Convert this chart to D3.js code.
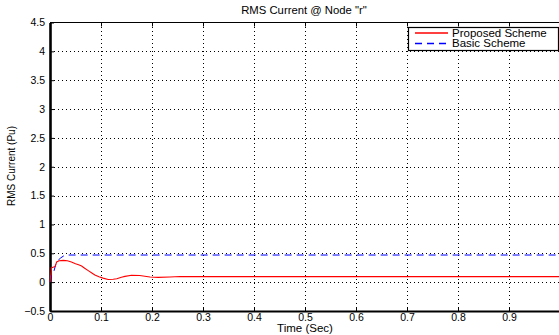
<!DOCTYPE html>
<html>
<head>
<meta charset="utf-8">
<script src="https://cdn.jsdelivr.net/npm/d3@7/dist/d3.min.js"></script>
<style>
  html, body { margin: 0; padding: 0; background: #fff; }
  svg { display: block; font-family: "Liberation Sans", Arial, sans-serif; }
</style>
</head>
<body>
<svg id="chart" width="559" height="335"></svg>
<script>
// Proposed scheme: RMS current (pu) vs time (s)
const proposedTime = [0, 0.003, 0.006, 0.010, 0.013, 0.018, 0.026, 0.034, 0.042, 0.050, 0.056, 0.062, 0.068, 0.075, 0.082, 0.088, 0.096, 0.104, 0.114, 0.124, 0.131, 0.140, 0.147, 0.160, 0.176, 0.196, 0.212, 0.235, 0.255, 0.294, 0.4, 0.6, 0.8, 1.0];
const proposedValue = [0, 0.25, 0.26, 0.27, 0.35, 0.37, 0.378, 0.37, 0.35, 0.32, 0.30, 0.28, 0.24, 0.20, 0.16, 0.125, 0.095, 0.07, 0.045, 0.05, 0.06, 0.085, 0.10, 0.12, 0.115, 0.088, 0.082, 0.09, 0.098, 0.095, 0.095, 0.095, 0.095, 0.095];

// Basic scheme: RMS current (pu) vs time (s)
const basicTime = [0, 0.003, 0.008, 0.011, 0.013, 0.016, 0.021, 0.026, 0.030, 0.05, 0.3, 0.6, 1.0];
const basicValue = [0, 0.13, 0.2, 0.30, 0.35, 0.38, 0.42, 0.45, 0.47, 0.47, 0.47, 0.47, 0.47];

const xTicks = [0, 0.1, 0.2, 0.3, 0.4, 0.5, 0.6, 0.7, 0.8, 0.9];
const yTicks = [-0.5, 0, 0.5, 1, 1.5, 2, 2.5, 3, 3.5, 4, 4.5];
const seriesNames = ["Proposed Scheme", "Basic Scheme"];
const seriesColors = ["#ff0000", "#0000ff"];

const svg = d3.select("#chart");
const plotLeft = 50, plotRight = 560, plotTop = 22.5, plotBottom = 311;

const x = d3.scaleLinear().domain([0, 1]).range([plotLeft, plotRight]);
const y = d3.scaleLinear().domain([-0.5, 4.5]).range([plotBottom, plotTop]);

// dotted grid
const grid = svg.append("g").attr("stroke", "#000").attr("stroke-width", 1)
  .attr("stroke-dasharray", "1,3").attr("shape-rendering", "crispEdges");
grid.selectAll(".gx").data(xTicks.slice(1)).join("line")
  .attr("x1", d => Math.round(x(d)) + 0.5).attr("x2", d => Math.round(x(d)) + 0.5)
  .attr("y1", plotTop).attr("y2", plotBottom);
grid.selectAll(".gy").data(yTicks.slice(1, -1)).join("line")
  .attr("x1", plotLeft).attr("x2", plotRight)
  .attr("y1", d => Math.round(y(d)) + 0.5).attr("y2", d => Math.round(y(d)) + 0.5);

// top border
svg.append("line").attr("x1", plotLeft).attr("x2", plotRight).attr("y1", plotTop).attr("y2", plotTop)
  .attr("stroke", "#000").attr("stroke-width", 1.2);

// inward ticks on top border
svg.append("g").selectAll("line").data(xTicks.slice(1)).join("line")
  .attr("x1", d => Math.round(x(d)) + 0.5).attr("x2", d => Math.round(x(d)) + 0.5)
  .attr("y1", plotTop).attr("y2", plotTop + 4).attr("stroke", "#000");

// axes
const xAxis = d3.axisBottom(x).tickValues(xTicks).tickSizeInner(-4).tickSizeOuter(0)
  .tickPadding(3).tickFormat(d3.format("~g"));
const gx = svg.append("g").attr("transform", `translate(0,${plotBottom})`).call(xAxis);
gx.select(".domain").attr("stroke-width", 2.2);
gx.selectAll("text").attr("font-size", 10.5).attr("fill", "#000");

const yAxis = d3.axisLeft(y).tickValues(yTicks).tickSizeInner(-4).tickSizeOuter(0)
  .tickPadding(5).tickFormat(d => d < 0 ? "\u2212" + Math.abs(d) : d3.format("~g")(d));
const gy = svg.append("g").attr("transform", `translate(${plotLeft},0)`).call(yAxis);
gy.select(".domain").attr("stroke-width", 2.6);
gy.selectAll("text").attr("font-size", 10.5).attr("fill", "#000");

// series lines
const line = d3.line().x(d => x(d[0])).y(d => y(d[1]));
const proposed = d3.zip(proposedTime, proposedValue);
const basic = d3.zip(basicTime, basicValue);

svg.append("path").datum(basic).attr("d", line).attr("fill", "none")
  .attr("stroke", seriesColors[1]).attr("stroke-width", 1).attr("stroke-dasharray", "7,5");
svg.append("path").datum(proposed).attr("d", line).attr("fill", "none")
  .attr("stroke", seriesColors[0]).attr("stroke-width", 1.1);

// title and axis labels
svg.append("text").attr("x", 304).attr("y", 13.5).attr("text-anchor", "middle")
  .attr("font-size", 11.3).text('RMS Current @ Node "r"');
svg.append("text").attr("x", 305).attr("y", 332).attr("text-anchor", "middle")
  .attr("font-size", 11.5).text("Time (Sec)");
svg.append("text").attr("transform", "translate(15,166) rotate(-90)").attr("text-anchor", "middle")
  .attr("font-size", 10).text("RMS Current (Pu)");

// legend
const lg = svg.append("g");
lg.append("rect").attr("x", 408.5).attr("y", 27.5).attr("width", 150).attr("height", 23)
  .attr("fill", "#fff").attr("stroke", "#000").attr("stroke-width", 1.2);
seriesNames.forEach((name, i) => {
  const yy = 33 + i * 10.5;
  lg.append("path").attr("d", `M415,${yy}H448`)
    .attr("fill", "none")
    .attr("stroke", seriesColors[i]).attr("stroke-width", 1.4)
    .attr("stroke-dasharray", i === 1 ? "7,5" : null);
  lg.append("text").attr("x", 452).attr("y", yy + 3.7).attr("font-size", 11.5).text(name);
});
</script>
</body>
</html>
